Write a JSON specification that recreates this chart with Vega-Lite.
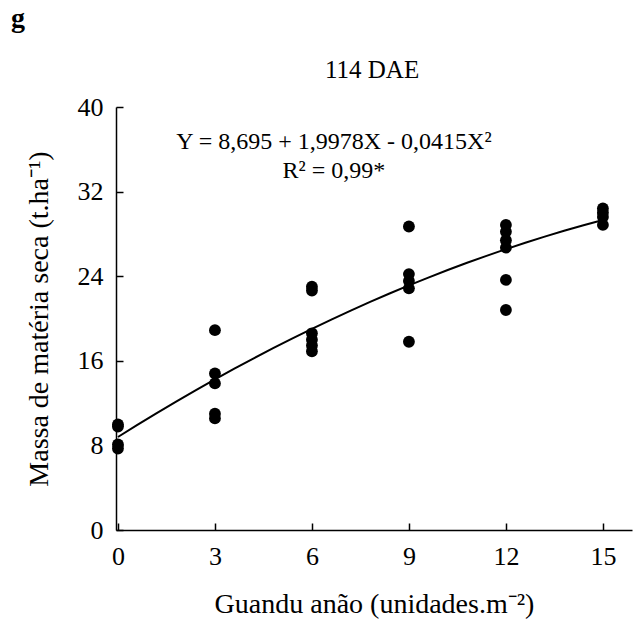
{
  "$schema": "https://vega.github.io/schema/vega-lite/v6.json",
  "width": 516,
  "height": 423,
  "autosize": {"type": "none"},
  "padding": {"left": 116, "top": 107, "right": 3, "bottom": 98},
  "background": "white",
  "config": {
    "font": "Liberation Serif",
    "view": {"stroke": null},
    "axis": {"grid": false, "domainColor": "black", "domainWidth": 1.5, "tickColor": "black", "tickWidth": 1.5, "labelColor": "black", "titleColor": "black", "labelFont": "Liberation Serif", "titleFont": "Liberation Serif", "labelFontSize": 26, "titleFontSize": 28, "titleFontWeight": "normal", "labelFlush": false}
  },
  "data": {"values": [
    {"x": 0, "y": 9.98}, {"x": 0, "y": 9.79}, {"x": 0, "y": 8.09}, {"x": 0, "y": 7.71},
    {"x": 3, "y": 18.9}, {"x": 3, "y": 14.8}, {"x": 3, "y": 13.86}, {"x": 3, "y": 11.0}, {"x": 3, "y": 10.55},
    {"x": 6, "y": 23.0}, {"x": 6, "y": 22.65}, {"x": 6, "y": 18.6}, {"x": 6, "y": 18.0}, {"x": 6, "y": 17.45}, {"x": 6, "y": 16.9},
    {"x": 9, "y": 28.7}, {"x": 9, "y": 24.2}, {"x": 9, "y": 23.55}, {"x": 9, "y": 22.85}, {"x": 9, "y": 17.8},
    {"x": 12, "y": 28.85}, {"x": 12, "y": 28.2}, {"x": 12, "y": 27.4}, {"x": 12, "y": 26.7}, {"x": 12, "y": 23.65}, {"x": 12, "y": 20.8},
    {"x": 15, "y": 30.4}, {"x": 15, "y": 30.0}, {"x": 15, "y": 29.6}, {"x": 15, "y": 28.85}
  ]},
  "layer": [
    {
      "mark": {"type": "point", "filled": true, "color": "black", "opacity": 1, "size": 140},
      "encoding": {
        "x": {"field": "x", "type": "quantitative", "scale": {"domain": [-0.06, 15.9], "nice": false, "zero": false}, "axis": {"values": [0, 3, 6, 9, 12, 15], "tickSize": -7, "labelPadding": 20, "title": "Guandu anão (unidades.m⁻²)", "titlePadding": 21}},
        "y": {"field": "y", "type": "quantitative", "scale": {"domain": [0, 40], "nice": false}, "axis": {"values": [0, 8, 16, 24, 32, 40], "tickSize": -7, "labelPadding": 20, "title": "Massa de matéria seca (t.ha⁻¹)", "titlePadding": 24}}
      }
    },
    {
      "transform": [{"regression": "y", "on": "x", "method": "poly", "order": 2, "extent": [0, 15]}],
      "mark": {"type": "line", "color": "black", "strokeWidth": 2},
      "encoding": {
        "x": {"field": "x", "type": "quantitative"},
        "y": {"field": "y", "type": "quantitative"}
      }
    },
    {
      "data": {"values": [{}]},
      "mark": {"type": "text", "font": "Liberation Serif", "fontSize": 24, "color": "black", "align": "center", "baseline": "middle"},
      "encoding": {"x": {"datum": 6.68}, "y": {"datum": 36.7}, "text": {"value": "Y = 8,695 + 1,9978X - 0,0415X²"}}
    },
    {
      "data": {"values": [{}]},
      "mark": {"type": "text", "font": "Liberation Serif", "fontSize": 24, "color": "black", "align": "center", "baseline": "middle"},
      "encoding": {"x": {"datum": 6.68}, "y": {"datum": 33.96}, "text": {"value": "R² = 0,99*"}}
    },
    {
      "data": {"values": [{}]},
      "mark": {"type": "text", "font": "Liberation Serif", "fontSize": 25, "color": "black", "align": "center", "baseline": "middle"},
      "encoding": {"x": {"datum": 7.86}, "y": {"datum": 43.5}, "text": {"value": "114 DAE"}}
    },
    {
      "data": {"values": [{}]},
      "mark": {"type": "text", "font": "Liberation Serif", "fontSize": 28, "fontWeight": "bold", "color": "black", "align": "center", "baseline": "middle"},
      "encoding": {"x": {"datum": -3.09}, "y": {"datum": 48.3}, "text": {"value": "g"}}
    }
  ]
}
